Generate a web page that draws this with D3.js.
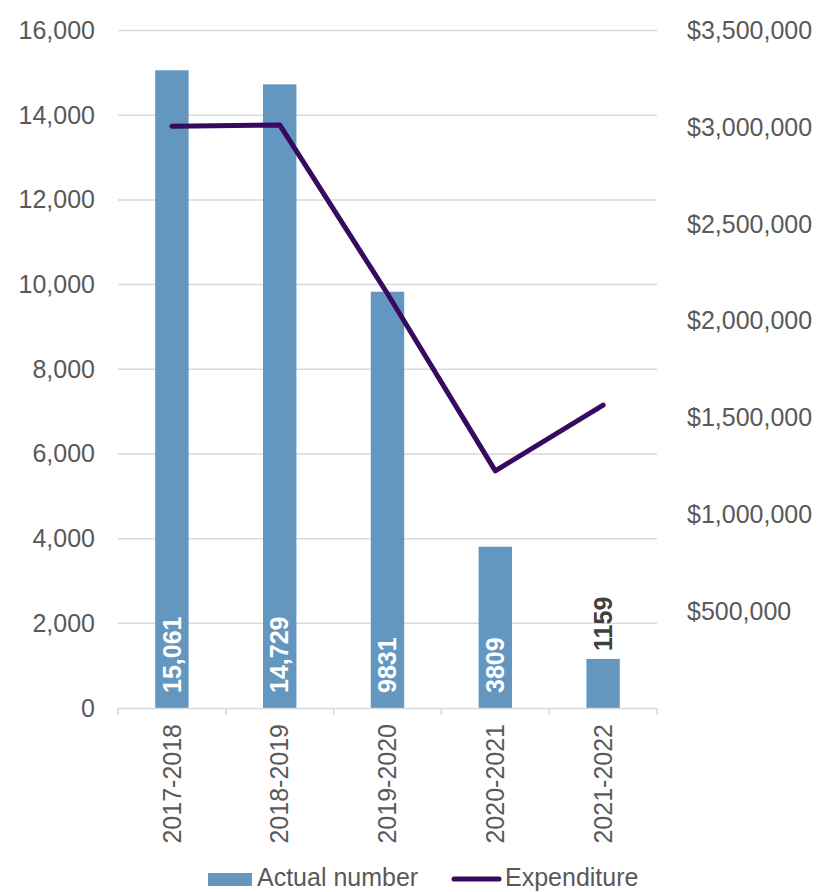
<!DOCTYPE html>
<html>
<head>
<meta charset="utf-8">
<script src="https://cdn.jsdelivr.net/npm/d3@7"></script>
<style>
  body { margin: 0; background: #fff; }
  text { font-family: "Liberation Sans", Arial, sans-serif; }
</style>
</head>
<body>
<svg id="chart" width="818" height="892"></svg>
<script>
// data
const years = ['2017-2018', '2018-2019', '2019-2020', '2020-2021', '2021-2022'];
const actualNumber = [15061, 14729, 9831, 3809, 1159];
const barLabels = ['15,061', '14,729', '9831', '3809', '1159'];
const expenditure = [3005000, 3012000, 2140000, 1225000, 1565000];
const leftTicks = [0, 2000, 4000, 6000, 8000, 10000, 12000, 14000, 16000];
const rightTicks = [500000, 1000000, 1500000, 2000000, 2500000, 3000000, 3500000];

const margin = {top: 30.5, left: 118, right: 161, bottom: 184};
const width = 818 - margin.left - margin.right,
      height = 892 - margin.top - margin.bottom;

const svg = d3.select('#chart');
const g = svg.append('g')
  .attr('transform', 'translate(' + margin.left + ',' + margin.top + ')');

const x = d3.scaleBand().domain(years).range([0, width]).paddingInner(0.69).paddingOuter(0.345);
const y = d3.scaleLinear().domain([0, 16000]).range([height, 0]);
const y2 = d3.scaleLinear().domain([0, 3500000]).range([height, 0]);

const grey = '#595959';

// gridlines
g.append('g').selectAll('line')
  .data(leftTicks.filter(d => d > 0))
  .join('line')
  .attr('x1', 0).attr('x2', width)
  .attr('y1', d => y(d)).attr('y2', d => y(d))
  .attr('stroke', '#d9d9d9').attr('stroke-width', 1.5);

// left axis
const yAxis = g.append('g')
  .call(d3.axisLeft(y).tickValues(leftTicks).tickFormat(d3.format(',')).tickSize(0).tickPadding(23));
yAxis.select('.domain').remove();
yAxis.selectAll('text').attr('font-size', 25).attr('fill', grey)
  .style('font-family', '"Liberation Sans", Arial, sans-serif');

// right axis
const y2Axis = g.append('g')
  .attr('transform', 'translate(' + width + ',0)')
  .call(d3.axisRight(y2).tickValues(rightTicks).tickFormat(d => '$' + d3.format(',')(d)).tickSize(0).tickPadding(30));
y2Axis.select('.domain').remove();
y2Axis.selectAll('text').attr('font-size', 25).attr('fill', grey)
  .style('font-family', '"Liberation Sans", Arial, sans-serif');

// bars
g.append('g').selectAll('rect')
  .data(actualNumber)
  .join('rect')
  .attr('x', (d, i) => x(years[i]))
  .attr('y', d => y(d))
  .attr('width', x.bandwidth())
  .attr('height', d => height - y(d))
  .attr('fill', '#6497bf');

// bottom axis
const xAxis = g.append('g')
  .attr('transform', 'translate(0,' + height + ')')
  .call(d3.axisBottom(x).tickSize(0).tickPadding(0));
xAxis.select('.domain').attr('stroke', '#d9d9d9').attr('stroke-width', 1.5);
xAxis.selectAll('.tick').remove();
const edges = d3.range(years.length + 1).map(i => i * width / years.length);
xAxis.selectAll('line.sep')
  .data(edges)
  .join('line')
  .attr('class', 'sep')
  .attr('x1', d => d).attr('x2', d => d)
  .attr('y1', 0).attr('y2', 7)
  .attr('stroke', '#d9d9d9').attr('stroke-width', 1.5);
xAxis.selectAll('text.cat')
  .data(years)
  .join('text')
  .attr('class', 'cat')
  .attr('transform', d => 'translate(' + (x(d) + x.bandwidth() / 2) + ',16) rotate(-90)')
  .attr('text-anchor', 'end')
  .attr('dy', '0.35em')
  .attr('font-size', 25)
  .attr('fill', grey)
  .text(d => d);

// bar value labels
g.append('g').selectAll('text')
  .data(actualNumber)
  .join('text')
  .attr('transform', (d, i) => {
    const inside = height - y(d) > 100;
    const yy = inside ? height - 15 : y(d) - 8;
    return 'translate(' + (x(years[i]) + x.bandwidth() / 2) + ',' + yy + ') rotate(-90)';
  })
  .attr('text-anchor', 'start')
  .attr('dy', '0.35em')
  .attr('font-size', 25)
  .attr('font-weight', 'bold')
  .attr('fill', d => (height - y(d) > 100) ? '#fff' : '#404040')
  .text((d, i) => barLabels[i]);

// expenditure line
const line = d3.line()
  .x((d, i) => x(years[i]) + x.bandwidth() / 2)
  .y(d => y2(d));
g.append('path')
  .datum(expenditure)
  .attr('d', line)
  .attr('fill', 'none')
  .attr('stroke', '#360b5f')
  .attr('stroke-width', 5)
  .attr('stroke-linejoin', 'round')
  .attr('stroke-linecap', 'round');

// legend
const legend = svg.append('g');
legend.append('rect')
  .attr('x', 208).attr('y', 873).attr('width', 44).attr('height', 13)
  .attr('fill', '#6497bf');
legend.append('text')
  .attr('x', 257).attr('y', 885.5)
  .attr('font-size', 25).attr('fill', grey)
  .text('Actual number');
legend.append('line')
  .attr('x1', 454).attr('x2', 499).attr('y1', 879).attr('y2', 879)
  .attr('stroke', '#360b5f').attr('stroke-width', 5).attr('stroke-linecap', 'round');
legend.append('text')
  .attr('x', 505).attr('y', 885.5)
  .attr('font-size', 25).attr('fill', grey)
  .text('Expenditure');
</script>
</body>
</html>
